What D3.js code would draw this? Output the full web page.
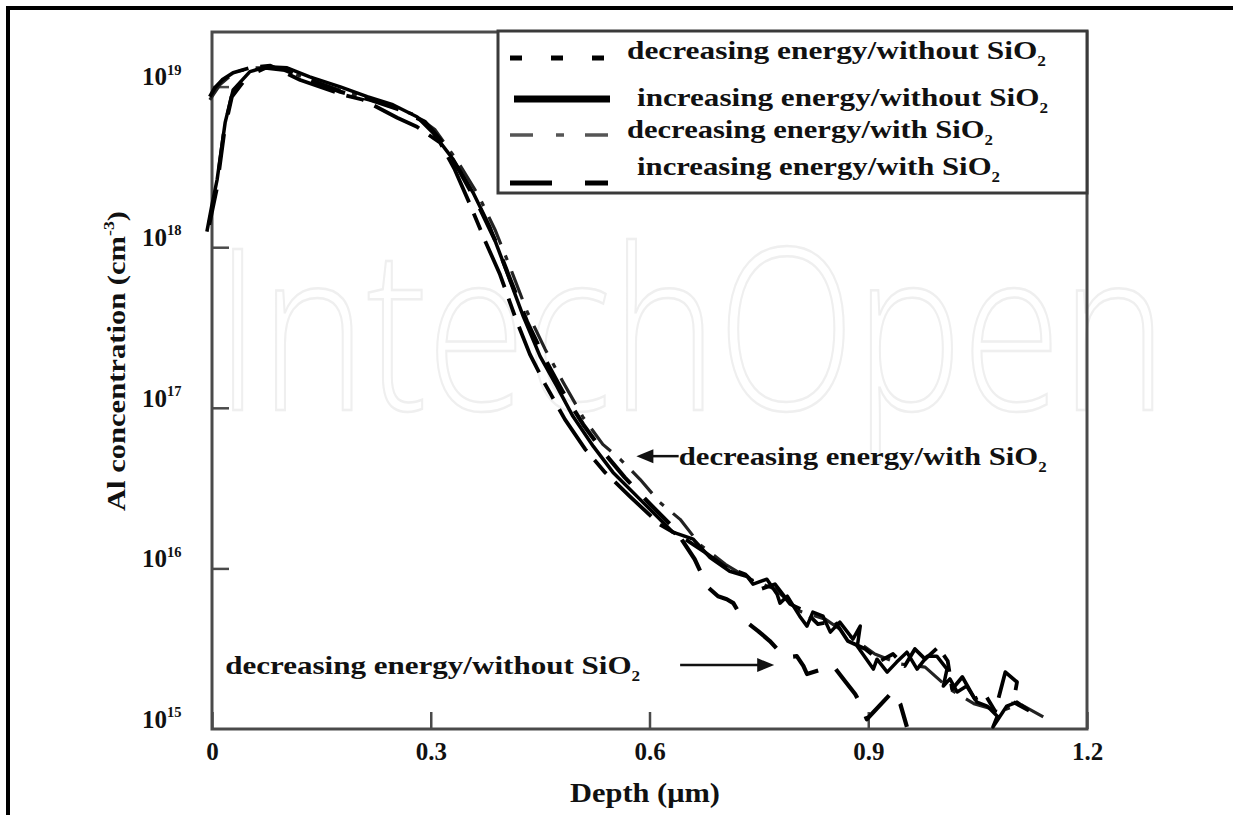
<!DOCTYPE html>
<html><head><meta charset="utf-8">
<script src="https://cdn.jsdelivr.net/npm/d3@7"></script>
<style>body{margin:0;background:#fff}svg{display:block}</style>
</head><body>
<svg id="chart" width="1233" height="815"></svg>
<script>
// ---------------- DATA ----------------
// increasing energy / without SiO2 (solid)
const incNoDepth = [-0.007,0,0.007,0.018,0.029,0.052,0.075,0.103,0.134,0.176,0.213,0.248,0.281,0.303,0.331,0.358,0.381,0.399,0.427,0.450,0.473,0.495,0.523,0.550,0.587,0.632,0.660,0.683,0.710,0.734,0.742,0.761,0.775,0.779,0.789,0.806,0.816,0.824,0.838,0.848,0.861,0.879,0.889,0.885,0.907,0.912,0.926,0.939,0.953,0.967,0.981,0.994,1.008,1.003,1.012,1.022,1.035,1.049,1.063,1.077,1.071,1.090,1.104,1.118];
const incNoConc = [1.25e18,1.84e18,2.63e18,5.96e18,9.55e18,1.24e19,1.33e19,1.31e19,1.15e19,9.97e18,8.65e18,7.71e18,6.49e18,5.16e18,3.51e18,2.19e18,1.34e18,8.13e17,3.70e17,2.09e17,1.36e17,8.85e16,5.75e16,3.96e16,2.69e16,1.68e16,1.52e16,1.17e16,9.6e15,8.9e15,7.97e15,8.57e15,6.91e15,6.08e15,6.71e15,5.04e15,4.37e15,5.34e15,5.04e15,4.01e15,4.63e15,3.63e15,4.37e15,3.28e15,2.36e15,2.72e15,2.26e15,2.61e15,3.01e15,2.36e15,2.84e15,2.84e15,2.36e15,1.85e15,2.05e15,1.70e15,1.85e15,1.47e15,1.39e15,1.20e15,1.03e15,1.39e15,1.47e15,1.33e15];

// decreasing energy / without SiO2 (short dash)
const decNoDepth = [-0.004,0.006,0.017,0.027,0.049,0.073,0.100,0.134,0.176,0.217,0.258,0.292,0.313,0.340,0.365,0.388,0.409,0.432,0.457,0.481,0.509,0.536,0.566,0.601,0.635,0.662,0.680,0.694,0.706,0.715,0.728,0.749,0.765,0.775,0.789,0.802,0.811,0.816,0.852,0.868,0.882,0.891,0.898,0.934,0.944,0.953];
const decNoConc = [1.38e18,2.28e18,5.38e18,8.65e18,1.17e19,1.31e19,1.27e19,1.10e19,9.29e18,8.28e18,7.18e18,6.04e18,4.67e18,2.95e18,1.84e18,1.11e18,6.29e17,3.44e17,2.00e17,1.26e17,7.88e16,5.36e16,3.69e16,2.51e16,1.75e16,1.14e16,7.64e15,6.71e15,6.43e15,6.08e15,4.83e15,4.07e15,3.53e15,3.15e15,2.80e15,2.84e15,2.47e15,2.20e15,2.47e15,1.99e15,1.65e15,1.39e15,1.15e15,1.72e15,1.43e15,1.03e15];

// decreasing energy / with SiO2 (dash-dot)
const decWithDepth = [-0.003,0.011,0.032,0.059,0.093,0.134,0.182,0.230,0.278,0.306,0.337,0.365,0.388,0.409,0.432,0.457,0.481,0.509,0.536,0.560,0.587,0.614,0.642,0.669,0.704,0.738,0.772,0.806,0.841,0.875,0.909,0.944,0.978,1.012,1.046,1.081,1.108,1.140];
const decWithConc = [8.28e18,1.03e19,1.24e19,1.31e19,1.31e19,1.10e19,9.29e18,7.93e18,6.68e18,5.38e18,3.41e18,2.12e18,1.29e18,7.46e17,3.98e17,2.31e17,1.46e17,8.71e16,5.92e16,4.78e16,3.59e16,2.58e16,2.02e16,1.41e16,1.06e16,8.57e15,7.43e15,5.42e15,4.83e15,3.79e15,2.93e15,2.54e15,2.43e15,1.77e15,1.43e15,1.29e15,1.43e15,1.19e15];

// increasing energy / with SiO2 (long dash - short dash)
const incWithDepth = [-0.003,0.004,0.014,0.029,0.052,0.080,0.121,0.180,0.207,0.254,0.281,0.313,0.333,0.354,0.374,0.395,0.416,0.436,0.457,0.484,0.512,0.539,0.573,0.614,0.649,0.676,0.704,0.731,0.752,0.772,0.793,0.813,0.831,0.854,0.872,0.896,0.916,0.934,0.950,0.964,0.978,0.996,1.009,1.015,1.029,1.046,1.060,1.074,1.088,1.104,1.099,1.122];
const incWithConc = [8.65e18,9.84e18,1.10e19,1.22e19,1.31e19,1.35e19,1.10e19,8.89e18,8.28e18,6.40e18,5.62e18,4.47e18,3.04e18,1.84e18,1.11e18,6.76e17,3.65e17,2.15e17,1.40e17,8.47e16,5.51e16,3.96e16,2.81e16,1.88e16,1.52e16,1.26e16,1.02e16,9.2e15,7.43e15,7.97e15,5.99e15,5.42e15,4.50e15,4.70e15,3.53e15,3.15e15,2.65e15,2.93e15,2.47e15,3.15e15,2.72e15,3.24e15,2.65e15,1.77e15,2.11e15,1.54e15,1.65e15,1.29e15,2.26e15,1.96e15,1.47e15,1.29e15];

const legendLabels = ["decreasing energy/without SiO","increasing energy/without SiO","decreasing energy/with SiO","increasing energy/with SiO"];
const xTickValues = [0,0.3,0.6,0.9,1.2];
const xTickLabels = ["0","0.3","0.6","0.9","1.2"];
const yTickValues = [1e15,1e16,1e17,1e18,1e19];
const yTickExps = ["15","16","17","18","19"];
const xTitle = "Depth (μm)";
const yTitle = "Al concentration (cm";
const annotations = [
  {text:"decreasing energy/with SiO", headDepth:0.582, tailDepth:0.640, conc:5.0e16, side:"right"},
  {text:"decreasing energy/without SiO", headDepth:0.771, tailDepth:0.642, conc:2.5e15, side:"left"}
];

// ---------------- CHART ----------------
const FONT = "'Liberation Serif','Times New Roman',serif";
const svg = d3.select("#chart");
const M = {left:212, right:1087, top:32, bottom:729};
const x = d3.scaleLinear().domain([0,1.2]).range([M.left, M.right]);
const y = d3.scaleLog().domain([1e15, Math.pow(10,19.34)]).range([M.bottom, M.top]);

// outer frame
svg.append("path").attr("d","M8,815V8H1233").attr("fill","none")
  .attr("stroke","#000").attr("stroke-width",4);

// faint watermark
svg.append("text").attr("transform","translate(215,410) scale(0.8,1)")
  .attr("font-family","'Open Sans','Noto Sans',sans-serif").attr("font-weight",300)
  .attr("font-size",225)
  .attr("fill","#fff").attr("stroke","#efefef").attr("stroke-width",2.5)
  .text("IntechOpen");

// helper for text with sub/superscripts
function rich(sel, segs, size){
  segs.forEach(s=>{
    const t = sel.append("tspan").text(s.t);
    if(s.sub){ t.attr("font-size",size*0.55).attr("dy",size*0.25); }
    if(s.sup){ t.attr("font-size",size*0.58).attr("dy",-size*0.42); }
    if(s.back){ t.attr("dy",s.back); }
  });
  return sel;
}

// plot frame
svg.append("rect").attr("x",x(0)).attr("y",M.top).attr("width",x(1.2)-x(0)).attr("height",M.bottom-M.top)
  .attr("fill","none").attr("stroke","#4a4a4a").attr("stroke-width",3);

// x axis
const xAxis = svg.append("g").attr("transform",`translate(0,${M.bottom})`)
  .call(d3.axisBottom(x).tickValues(xTickValues).tickSizeInner(-17).tickSizeOuter(0).tickPadding(13)
    .tickFormat((d,i)=>xTickLabels[i]));
xAxis.select(".domain").remove();
xAxis.selectAll(".tick line").attr("stroke","#4a4a4a").attr("stroke-width",2.5);
xAxis.selectAll(".tick text").attr("font-family",FONT).attr("font-weight","bold").attr("font-size",25).attr("fill","#111");

// y axis (ticks)
const yAxis = svg.append("g").attr("transform",`translate(${M.left},0)`)
  .call(d3.axisLeft(y).tickValues(yTickValues.slice(1)).tickSizeInner(-17).tickSizeOuter(0).tickFormat(""));
yAxis.select(".domain").remove();
yAxis.selectAll(".tick line").attr("stroke","#4a4a4a").attr("stroke-width",2.5);

// y tick labels
yTickValues.forEach((v,i)=>{
  const t = svg.append("text").attr("x",142).attr("y",y(v)-10).attr("dy","0.35em")
    .attr("font-family",FONT).attr("font-weight","bold").attr("font-size",25).attr("fill","#111");
  rich(t,[{t:"10"},{t:yTickExps[i],sup:true}],25);
});

// axis titles
svg.append("text").attr("x",645).attr("y",793).attr("dy","0.35em").attr("text-anchor","middle")
  .attr("font-family",FONT).attr("font-weight","bold").attr("font-size",27).attr("fill","#111")
  .attr("textLength",150).attr("lengthAdjust","spacingAndGlyphs").text(xTitle);

const yt = svg.append("text").attr("transform","translate(116,361) rotate(-90)").attr("dy","0.35em")
  .attr("text-anchor","middle").attr("font-family",FONT).attr("font-weight","bold").attr("font-size",25)
  .attr("fill","#111").attr("textLength",300).attr("lengthAdjust","spacingAndGlyphs");
rich(yt,[{t:yTitle},{t:"-3",sup:true},{t:")",back:25*0.42}],25);

// series
const line = d3.line().x(d=>x(d[0])).y(d=>y(d[1]));
const series = [
  {depth:decWithDepth, conc:decWithConc, color:"#222", width:3.2, dash:"30,12,5,12"},
  {depth:incWithDepth, conc:incWithConc, color:"#000", width:3.8, dash:"50,12,18,12"},
  {depth:decNoDepth,  conc:decNoConc,  color:"#000", width:4.2, dash:"36,20"},
  {depth:incNoDepth,  conc:incNoConc,  color:"#000", width:3.5, dash:null}
];
series.forEach(s=>{
  svg.append("path").datum(d3.zip(s.depth,s.conc)).attr("d",line)
    .attr("fill","none").attr("stroke",s.color).attr("stroke-width",s.width)
    .attr("stroke-linejoin","round").attr("stroke-linecap","butt")
    .attr("stroke-dasharray",s.dash);
});

// legend
const lg = svg.append("g");
lg.append("rect").attr("x",498).attr("y",31).attr("width",x(1.2)-498).attr("height",162)
  .attr("fill","#fff").attr("stroke","#3a3a3a").attr("stroke-width",3);
const legSym = [
  {y:58, x1:510, x2:605, color:"#000", width:5, dash:"12,29"},
  {y:99, x1:514, x2:610, color:"#000", width:7, dash:null},
  {y:135, x1:510, x2:608, color:"#555", width:3.5, dash:"23,23,8,21,23,100"},
  {y:183, x1:510, x2:608, color:"#000", width:5, dash:"42,33,23,100"}
];
const legText = [{x:627,y:50,len:419},{x:637,y:97,len:411},{x:627,y:129,len:366},{x:637,y:166,len:363}];
legendLabels.forEach((lab,i)=>{
  const s = legSym[i];
  lg.append("line").attr("x1",s.x1).attr("x2",s.x2).attr("y1",s.y).attr("y2",s.y)
    .attr("stroke",s.color).attr("stroke-width",s.width).attr("stroke-dasharray",s.dash);
  const t = lg.append("text").attr("x",legText[i].x).attr("y",legText[i].y).attr("dy","0.35em")
    .attr("font-family",FONT).attr("font-weight","bold").attr("font-size",26).attr("fill","#111")
    .attr("textLength",legText[i].len).attr("lengthAdjust","spacingAndGlyphs");
  rich(t,[{t:lab},{t:"2",sub:true}],26);
});

// annotations
annotations.forEach(a=>{
  const yy = y(a.conc), hx = x(a.headDepth), tx = x(a.tailDepth);
  const dir = hx < tx ? 1 : -1; // 1: head on the left
  svg.append("line").attr("x1",tx).attr("x2",hx+dir*14).attr("y1",yy).attr("y2",yy)
    .attr("stroke","#111").attr("stroke-width",2.5);
  svg.append("path").attr("d",`M${hx},${yy}L${hx+dir*17},${yy-7}L${hx+dir*17},${yy+7}Z`).attr("fill","#111");
  const t = svg.append("text").attr("y",yy).attr("dy","0.35em")
    .attr("font-family",FONT).attr("font-weight","bold").attr("font-size",26).attr("fill","#111")
    .attr("lengthAdjust","spacingAndGlyphs");
  if(a.side==="right"){ t.attr("x",tx).attr("text-anchor","start").attr("textLength",368); }
  else { t.attr("x",x(a.tailDepth)-40).attr("text-anchor","end").attr("textLength",415); }
  rich(t,[{t:a.text},{t:"2",sub:true}],26);
});
</script>
</body></html>
